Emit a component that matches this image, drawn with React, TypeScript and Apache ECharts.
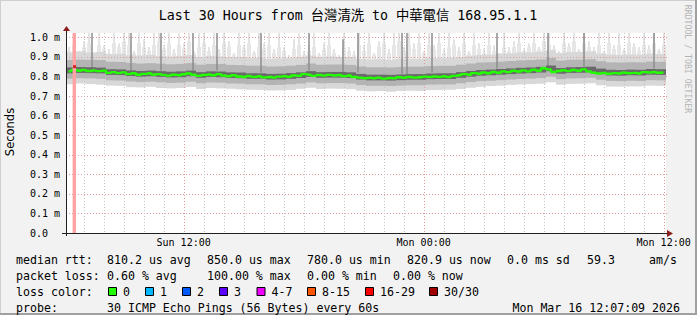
import React, { useEffect, useRef } from "react";
import * as echarts from "echarts";

// ---------- data ----------
const titleText = "Last 30 Hours from 台灣清洗 to 中華電信 168.95.1.1";

// x: hours since window start (Sun 06:07:09); window is 30 hours
const windowHours = 30;
const yMaxMs = 1.022;
const xLabelHours = [5.881, 17.881, 29.881];
const xLabelTexts = ["Sun 12:00", "Mon 00:00", "Mon 12:00"];
const yTickValues = [0, 0.1, 0.2, 0.3, 0.4, 0.5, 0.6, 0.7, 0.8, 0.9, 1.0];
const firstHourLine = 0.881; // Sun 07:00
const hourLineCount = 30;
const majorHourIdx = [5, 17, 29];

// median rtt (ms), one value per 15 minutes
const medianMs = [
  0.826, 0.832, 0.829, 0.833, 0.828, 0.831, 0.827, 0.830, 0.818, 0.822,
  0.817, 0.821, 0.812, 0.816, 0.809, 0.813, 0.816, 0.810, 0.812, 0.808,
  0.804, 0.809, 0.806, 0.811, 0.815, 0.809, 0.803, 0.807, 0.810, 0.806,
  0.812, 0.805, 0.801, 0.806, 0.800, 0.797, 0.802, 0.798, 0.801, 0.795,
  0.797, 0.794, 0.799, 0.801, 0.798, 0.805, 0.803, 0.812, 0.809, 0.803,
  0.807, 0.804, 0.808, 0.805, 0.807, 0.802, 0.805, 0.797, 0.794, 0.791,
  0.793, 0.790, 0.794, 0.789, 0.792, 0.790, 0.796, 0.793, 0.797, 0.794,
  0.796, 0.799, 0.797, 0.800, 0.798, 0.801, 0.797, 0.803, 0.806, 0.812,
  0.809, 0.817, 0.814, 0.820, 0.816, 0.823, 0.819, 0.826, 0.822, 0.829,
  0.825, 0.831, 0.826, 0.834, 0.829, 0.842, 0.836, 0.823, 0.828, 0.832,
  0.827, 0.833, 0.829, 0.836, 0.826, 0.819, 0.815, 0.818, 0.814, 0.817,
  0.815, 0.819, 0.816, 0.818, 0.815, 0.822, 0.820, 0.823, 0.819, 0.821,
];

// upper smoke (slower pings) per 15 minutes (ms)
const upperSmokeMs = [
  0.93, 0.96, 0.91, 0.95, 0.97, 0.92, 0.96, 0.94, 0.92, 0.97,
  0.95, 0.98, 0.96, 0.92, 0.97, 0.95, 0.93, 0.96, 0.98, 0.94,
  0.97, 0.92, 0.96, 0.94, 0.98, 0.92, 0.95, 0.97, 0.93, 0.96,
  0.92, 0.97, 0.95, 0.91, 0.96, 0.94, 0.97, 0.92, 0.95, 0.94,
  0.96, 0.92, 0.95, 0.93, 0.90, 0.94, 0.96, 0.91, 0.93, 0.95,
  0.91, 0.94, 0.96, 0.92, 0.90, 0.95, 0.93, 0.91, 0.96, 0.93,
  0.97, 0.91, 0.95, 0.97, 0.92, 0.96, 0.98, 0.93, 0.96, 0.94,
  0.97, 0.92, 0.96, 0.94, 0.97, 0.92, 0.95, 0.96, 0.93, 0.97,
  0.92, 0.96, 0.94, 0.92, 0.96, 0.93, 0.91, 0.95, 0.93, 0.95,
  0.97, 0.93, 0.95, 0.97, 0.94, 0.98, 0.96, 0.94, 0.92, 0.97,
  0.95, 0.98, 0.93, 0.97, 0.95, 0.93, 0.96, 0.92, 0.97, 0.94,
  0.96, 0.93, 0.97, 0.95, 0.93, 0.96, 0.94, 0.97, 0.93, 0.96,
];

// highest ping per 15 minutes (ms), clipped at top of graph
const spikeTopMs = [
  0.95, 1.03, 0.93, 0.98, 1.03, 0.92, 1.03, 0.96, 0.94, 1.03,
  0.97, 1.03, 1.03, 0.93, 1.03, 0.99, 0.95, 1.03, 1.03, 0.96,
  1.03, 0.94, 1.03, 0.97, 1.03, 0.93, 1.03, 1.03, 0.95, 1.03,
  0.94, 1.03, 0.98, 0.92, 1.03, 0.96, 1.03, 0.93, 1.03, 0.97,
  1.03, 0.94, 1.03, 0.95, 0.91, 0.99, 1.03, 0.93, 0.96, 1.03,
  0.92, 0.97, 1.03, 0.94, 0.91, 1.03, 0.95, 0.93, 1.03, 0.96,
  1.03, 0.92, 0.98, 1.03, 0.94, 1.03, 1.03, 0.95, 1.03, 0.97,
  1.03, 0.93, 1.03, 0.96, 1.03, 0.94, 1.03, 0.99, 0.95, 1.03,
  0.93, 1.03, 0.97, 0.94, 1.03, 0.96, 0.92, 1.03, 0.95, 0.98,
  1.03, 0.94, 0.97, 1.03, 0.95, 1.03, 1.03, 0.96, 0.93, 1.03,
  0.97, 1.03, 0.94, 1.03, 0.98, 0.95, 1.03, 0.93, 1.03, 0.96,
  1.03, 0.94, 1.03, 0.97, 0.95, 1.03, 0.96, 1.03, 0.94, 1.03,
];

// smoke bands, one value per 30 minutes (ms)
const lightLowMs = [
  0.760, 0.764, 0.761, 0.758, 0.753, 0.752, 0.745, 0.744, 0.747, 0.741,
  0.739, 0.741, 0.746, 0.736, 0.741, 0.739, 0.737, 0.734, 0.732, 0.731,
  0.728, 0.729, 0.731, 0.737, 0.742, 0.736, 0.738, 0.737, 0.735, 0.727,
  0.724, 0.725, 0.722, 0.726, 0.727, 0.726, 0.730, 0.731, 0.732, 0.736,
  0.742, 0.747, 0.751, 0.753, 0.757, 0.759, 0.761, 0.763, 0.770, 0.758,
  0.762, 0.763, 0.765, 0.755, 0.748, 0.748, 0.749, 0.749, 0.753, 0.752,
];
const lightHighMs = [
  0.922, 0.928, 0.923, 0.925, 0.914, 0.916, 0.908, 0.907, 0.910, 0.904,
  0.902, 0.905, 0.909, 0.899, 0.905, 0.902, 0.899, 0.899, 0.894, 0.896,
  0.890, 0.893, 0.894, 0.900, 0.906, 0.899, 0.902, 0.900, 0.899, 0.890,
  0.887, 0.888, 0.885, 0.889, 0.889, 0.890, 0.894, 0.893, 0.895, 0.899,
  0.906, 0.910, 0.911, 0.917, 0.918, 0.923, 0.923, 0.927, 0.934, 0.920,
  0.925, 0.925, 0.928, 0.917, 0.912, 0.910, 0.913, 0.911, 0.916, 0.914,
];
const midLowMs = [
  0.789, 0.791, 0.790, 0.788, 0.780, 0.779, 0.774, 0.771, 0.773, 0.770,
  0.767, 0.768, 0.773, 0.765, 0.769, 0.768, 0.764, 0.763, 0.760, 0.760,
  0.756, 0.757, 0.760, 0.764, 0.770, 0.765, 0.766, 0.766, 0.764, 0.756,
  0.752, 0.752, 0.751, 0.753, 0.755, 0.755, 0.758, 0.759, 0.759, 0.765,
  0.771, 0.776, 0.778, 0.781, 0.784, 0.787, 0.789, 0.792, 0.799, 0.786,
  0.790, 0.791, 0.793, 0.783, 0.777, 0.776, 0.778, 0.777, 0.781, 0.780,
];
const midHighMs = [
  0.884, 0.886, 0.885, 0.884, 0.875, 0.874, 0.869, 0.866, 0.868, 0.865,
  0.862, 0.864, 0.868, 0.860, 0.864, 0.864, 0.859, 0.858, 0.855, 0.855,
  0.851, 0.852, 0.855, 0.859, 0.866, 0.860, 0.861, 0.861, 0.859, 0.851,
  0.847, 0.847, 0.846, 0.848, 0.850, 0.850, 0.853, 0.854, 0.854, 0.860,
  0.866, 0.871, 0.873, 0.876, 0.879, 0.882, 0.884, 0.887, 0.894, 0.881,
  0.885, 0.886, 0.888, 0.878, 0.872, 0.871, 0.873, 0.872, 0.876, 0.875,
];
const darkLowMs = [
  0.816, 0.818, 0.817, 0.816, 0.808, 0.807, 0.802, 0.799, 0.801, 0.798,
  0.795, 0.796, 0.801, 0.793, 0.797, 0.796, 0.792, 0.791, 0.788, 0.788,
  0.784, 0.785, 0.788, 0.792, 0.798, 0.793, 0.794, 0.794, 0.792, 0.784,
  0.780, 0.780, 0.779, 0.781, 0.783, 0.783, 0.786, 0.787, 0.787, 0.793,
  0.799, 0.804, 0.806, 0.809, 0.812, 0.815, 0.817, 0.820, 0.827, 0.814,
  0.818, 0.819, 0.821, 0.811, 0.805, 0.804, 0.806, 0.805, 0.809, 0.808,
];
const darkHighMs = [
  0.846, 0.848, 0.847, 0.845, 0.837, 0.836, 0.831, 0.828, 0.830, 0.827,
  0.824, 0.826, 0.830, 0.822, 0.826, 0.825, 0.821, 0.820, 0.816, 0.816,
  0.813, 0.814, 0.817, 0.821, 0.827, 0.822, 0.823, 0.823, 0.821, 0.813,
  0.809, 0.809, 0.808, 0.810, 0.812, 0.812, 0.815, 0.816, 0.816, 0.822,
  0.828, 0.833, 0.835, 0.838, 0.841, 0.844, 0.846, 0.849, 0.856, 0.843,
  0.847, 0.848, 0.850, 0.840, 0.834, 0.833, 0.835, 0.834, 0.838, 0.837,
];

// isolated slow pings (hours since start, ms)
const darkSpikeHours = [1.3, 3.25, 4.75, 6.35, 7.55, 9.75, 12.15, 13.85, 14.6, 16.8, 17.05, 18.3, 21.55, 24.1, 25.9, 29.4];
const darkSpikeBaseMs = [0.84, 0.83, 0.83, 0.83, 0.83, 0.82, 0.83, 0.82, 0.82, 0.81, 0.81, 0.82, 0.84, 0.85, 0.85, 0.84];
const darkSpikeTopMs = [1.03, 1.03, 1.03, 1.03, 1.03, 1.03, 1.03, 0.99, 1.03, 1.03, 1.03, 1.03, 1.03, 1.03, 1.03, 1.03];

// packet loss event
const lossStartHour = 0.33;
const lossEndHour = 0.5;
const lossMarkHour = 0.43;
const lossMarkMs = 0.85;

// legend
const lossColorLabels = ["0", "1", "2", "3", "4-7", "8-15", "16-29", "30/30"];
const lossColors = ["#22ff00", "#00b8ff", "#0059ff", "#5e00ff", "#ee00ff", "#ff5500", "#ff0000", "#a00000"];
const medianRttTexts = ["median rtt:", "810.2 us avg", "850.0 us max", "780.0 us min", "820.9 us now", "0.0 ms sd", "59.3", "am/s"];
const packetLossTexts = ["packet loss:", "0.60 % avg", "100.00 % max", "0.00 % min", "0.00 % now"];
const probeText = "30 ICMP Echo Pings (56 Bytes) every 60s";
const dateText = "Mon Mar 16 12:07:09 2026";

// ---------- layout ----------
const MONO = '"DejaVu Sans Mono", "Noto Sans CJK TC", monospace';
const GRID_L = 66, GRID_R = 666, GRID_T = 33, GRID_B = 233;
const ROW_Y = [259.5, 275.8, 292, 308.3];
const RTT_X = [16, 107, 207, 307, 407, 507, 587, 649];
const LOSS_X = [16, 107, 207, 307, 393];
const SWATCH_LABEL_X = [123, 160, 197, 234, 271.5, 322, 380, 444];

function bandSeries(name: string, lows: number[], highs: number[], step: number, color: string, z: number) {
  return {
    type: "custom",
    name,
    z,
    clip: true,
    silent: true,
    encode: { x: 0, y: [1, 2] },
    data: lows.map((lo, j) => [step / 2 + step * j, lo, highs[j]]),
    renderItem: (_p: any, api: any) => {
      const t = api.value(0), lo = api.value(1), hi = api.value(2);
      const a = api.coord([t - step / 2, hi]);
      const b = api.coord([t + step / 2, lo]);
      return { type: "rect", shape: { x: a[0], y: a[1], width: b[0] - a[0], height: b[1] - a[1] }, style: { fill: color } };
    },
  };
}

function spikeSeries(name: string, times: number[], bases: number[], tops: number[], widthPx: number, color: string, z: number) {
  return {
    type: "custom",
    name,
    z,
    clip: true,
    silent: true,
    encode: { x: 0, y: [1, 2] },
    data: times.map((t, i) => [t, bases[i], tops[i]]),
    renderItem: (_p: any, api: any) => {
      const t = api.value(0), lo = api.value(1), hi = api.value(2);
      const a = api.coord([t, hi]);
      const b = api.coord([t, lo]);
      return { type: "rect", shape: { x: Math.round(a[0]) - widthPx / 2, y: a[1], width: widthPx, height: b[1] - a[1] }, style: { fill: color } };
    },
  };
}

function buildOption() {
  const step15 = 0.25;
  const step30 = 0.5;
  const t15 = medianMs.map((_, i) => step15 / 2 + step15 * i);
  const hourLines: number[][] = [];
  for (let k = 0; k < hourLineCount; k++) hourLines.push([firstHourLine + k, majorHourIdx.includes(k) ? 1 : 0]);

  const graphic: any[] = [];
  // frame
  graphic.push({ type: "rect", shape: { x: 0, y: 0, width: 697, height: 1 }, style: { fill: "#cfcfcf" }, silent: true });
  graphic.push({ type: "rect", shape: { x: 0, y: 0, width: 1, height: 315 }, style: { fill: "#cfcfcf" }, silent: true });
  graphic.push({ type: "rect", shape: { x: 695, y: 0, width: 2, height: 315 }, style: { fill: "#a0a0a0" }, silent: true });
  graphic.push({ type: "rect", shape: { x: 0, y: 313, width: 697, height: 2 }, style: { fill: "#a0a0a0" }, silent: true });
  // title
  graphic.push({ type: "text", x: 348, y: 15, style: { text: titleText, font: `13.3px ${MONO}`, fill: "#000", textAlign: "center", textVerticalAlign: "middle" } });
  // y axis name
  graphic.push({ type: "text", x: 10, y: 132, rotation: Math.PI / 2, style: { text: "Seconds", font: '11.5px "DejaVu Sans", sans-serif', fill: "#000", textAlign: "center", textVerticalAlign: "middle" } });
  // watermark
  graphic.push({ type: "text", x: 687.5, y: 59, rotation: -Math.PI / 2, style: { text: "RRDTOOL / TOBI OETIKER", font: `8.2px ${MONO}`, fill: "#b4b4b4", textAlign: "center", textVerticalAlign: "middle" } });
  // axes
  graphic.push({ type: "line", shape: { x1: 62, y1: GRID_B + 0.5, x2: 668, y2: GRID_B + 0.5 }, style: { stroke: "#202020", lineWidth: 1 }, z: 20 });
  graphic.push({ type: "line", shape: { x1: GRID_L + 0.5, y1: 236, x2: GRID_L + 0.5, y2: 30 }, style: { stroke: "#202020", lineWidth: 1 }, z: 20 });
  graphic.push({ type: "polygon", shape: { points: [[667, 230], [673, 233.5], [667, 237]] }, style: { fill: "#8b1c1c" }, z: 20 });
  graphic.push({ type: "polygon", shape: { points: [[63, 31], [66.5, 26], [70, 31]] }, style: { fill: "#8b1c1c" }, z: 20 });

  const legendFont = `11.6px ${MONO}`;
  const txt = (text: string, x: number, y: number, align = "left") => ({
    type: "text", x, y, style: { text, font: legendFont, fill: "#000", textAlign: align, textVerticalAlign: "middle" },
  });
  medianRttTexts.forEach((s, i) => graphic.push(txt(s, RTT_X[i], ROW_Y[0])));
  packetLossTexts.forEach((s, i) => graphic.push(txt(s, LOSS_X[i], ROW_Y[1])));
  graphic.push(txt("loss color:", 16, ROW_Y[2]));
  lossColorLabels.forEach((s, i) => {
    const lx = SWATCH_LABEL_X[i];
    graphic.push({ type: "rect", shape: { x: lx - 14.5, y: ROW_Y[2] - 4.5, width: 8, height: 8 }, style: { fill: lossColors[i], stroke: "#000", lineWidth: 1 } });
    graphic.push(txt(s, lx, ROW_Y[2]));
  });
  graphic.push(txt("probe:", 16, ROW_Y[3]));
  graphic.push(txt(probeText, 107, ROW_Y[3]));
  graphic.push(txt(dateText, 680, ROW_Y[3], "right"));

  return {
    animation: false,
    backgroundColor: "#f2f2f2",
    grid: {
      left: GRID_L, top: GRID_T, width: GRID_R - GRID_L, height: GRID_B - GRID_T,
      show: true, backgroundColor: "#ffffff", borderWidth: 0, containLabel: false, outerBoundsMode: "none",
    },
    xAxis: {
      type: "value", min: 0, max: windowHours,
      axisLine: { show: false }, axisTick: { show: false }, splitLine: { show: false },
      axisLabel: {
        customValues: xLabelHours,
        margin: 4,
        color: "#000",
        fontFamily: MONO,
        fontSize: 10,
        formatter: (v: number) => {
          let best = 0;
          xLabelHours.forEach((h, i) => { if (Math.abs(h - v) < Math.abs(xLabelHours[best] - v)) best = i; });
          return xLabelTexts[best];
        },
      },
    },
    yAxis: {
      type: "value", min: 0, max: yMaxMs,
      axisLine: { show: false }, axisTick: { show: false }, splitLine: { show: false },
      axisLabel: {
        customValues: yTickValues,
        align: "left",
        margin: 36,
        color: "#000",
        fontFamily: MONO,
        fontSize: 10,
        formatter: (v: number) => (v === 0 ? "0.0" : `${v.toFixed(1)} m`),
      },
    },
    series: [
      spikeSeries("maxPing", t15, medianMs, spikeTopMs, 1.5, "#dadada", 2),
      spikeSeries("upperSmoke", t15, medianMs, upperSmokeMs, 4, "#e6e6e6", 2),
      bandSeries("smokeLight", lightLowMs, lightHighMs, step30, "#d8d8d8", 3),
      {
        type: "custom", name: "hgrid", z: 3.5, silent: true, clip: false,
        encode: { x: 0, y: 1 },
        data: yTickValues.filter((v) => v > 0).map((v) => [0, v]),
        renderItem: (_p: any, api: any) => {
          const v = api.value(1);
          const a = api.coord([0, v]);
          const b = api.coord([windowHours, v]);
          const y = Math.round(a[1]) + 0.5;
          return { type: "line", shape: { x1: a[0], y1: y, x2: b[0] + 2, y2: y }, style: { stroke: "#e49a9a", lineWidth: 1, lineDash: [1, 2] } };
        },
      },
      {
        type: "custom", name: "vgrid", z: 3.5, silent: true, clip: false,
        encode: { x: 0, y: 1 },
        data: hourLines,
        renderItem: (_p: any, api: any) => {
          const t = api.value(0), major = api.value(1);
          const a = api.coord([t, yMaxMs]);
          const b = api.coord([t, 0]);
          const x = Math.round(a[0]) + 0.5;
          return { type: "line", shape: { x1: x, y1: a[1], x2: x, y2: b[1] }, style: { stroke: major ? "#e49a9a" : "#c4c4c4", lineWidth: 1, lineDash: [1, 2] } };
        },
      },
      bandSeries("smokeMid", midLowMs, midHighMs, step30, "#b4b4b4", 4),
      spikeSeries("slowPing", darkSpikeHours, darkSpikeBaseMs, darkSpikeTopMs, 1.5, "#8c8c8c", 5),
      bandSeries("smokeDark", darkLowMs, darkHighMs, step30, "#6a6a6a", 6),
      {
        type: "line", name: "median", z: 7, silent: true, step: "middle", symbol: "none",
        data: medianMs.map((v, i) => [t15[i], v]),
        lineStyle: { color: "#22ff00", width: 2.4 },
      },
      {
        type: "custom", name: "loss", z: 8, silent: true, clip: true,
        encode: { x: [0, 1] },
        data: [[lossStartHour, lossEndHour]],
        renderItem: (_p: any, api: any) => {
          const a = api.coord([api.value(0), yMaxMs]);
          const b = api.coord([api.value(1), 0]);
          return { type: "rect", shape: { x: a[0], y: a[1], width: b[0] - a[0], height: b[1] - a[1] }, style: { fill: "#ffa3a3" } };
        },
      },
      {
        type: "scatter", name: "lossMedian", z: 9, silent: true,
        symbol: "rect", symbolSize: [3, 3],
        data: [[lossMarkHour, lossMarkMs]],
        itemStyle: { color: "#c80000" },
      },
    ],
    graphic,
  };
}

export default function App() {
  const ref = useRef<HTMLDivElement>(null);
  useEffect(() => {
    if (!ref.current) return;
    const chart = echarts.init(ref.current, null, { renderer: "svg" });
    chart.setOption(buildOption() as any);
    return () => chart.dispose();
  }, []);
  return <div ref={ref} style={{ position: "absolute", left: 0, top: 0, width: 697, height: 315 }} />;
}
